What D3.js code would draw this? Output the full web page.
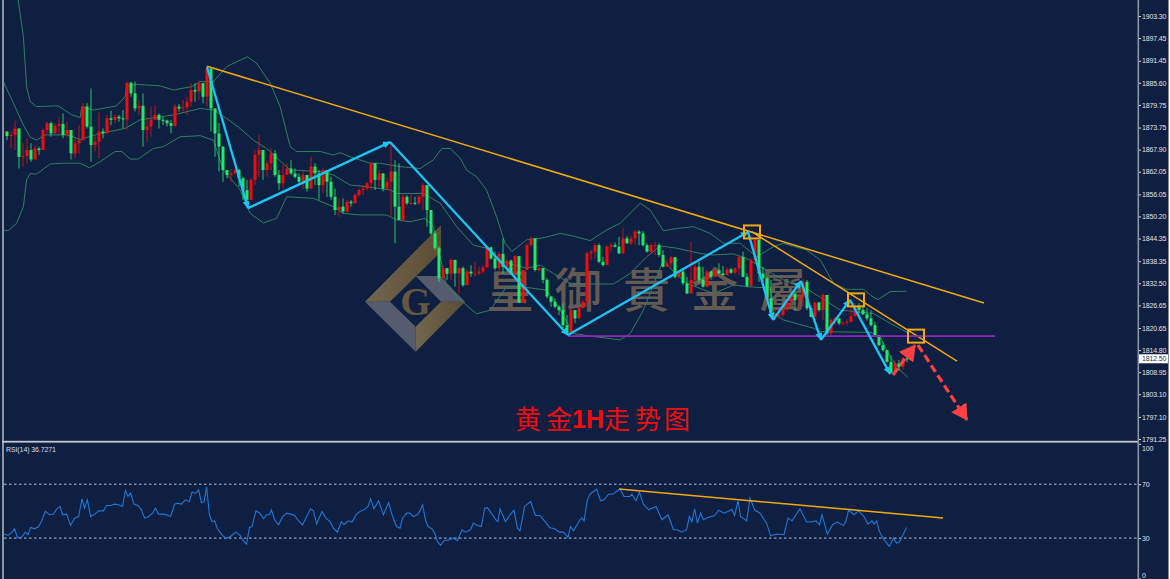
<!DOCTYPE html>
<html><head><meta charset="utf-8">
<script src="https://cdnjs.cloudflare.com/ajax/libs/d3/7.8.5/d3.min.js"></script>
<style>html,body{margin:0;padding:0;background:#fff;overflow:hidden}svg{display:block}</style>
</head><body><svg id="c" width="1170" height="579"></svg>
<script>
const firstOpen = 1872.5;
const closes = [1872.7,1871.5,1871.8,1873.5,1866.0,1866.2,1867.8,1865.3,1868.2,1867.8,1873.1,1874.9,1872.2,1874.2,1874.7,1871.8,1873.1,1866.9,1869.6,1870.4,1879.3,1874.0,1869.1,1870.0,1872.7,1872.2,1876.2,1875.8,1876.6,1876.2,1875.9,1885.6,1882.8,1878.8,1879.5,1873.1,1874.0,1875.8,1877.1,1875.8,1875.6,1874.9,1874.2,1879.3,1878.8,1879.1,1880.6,1883.7,1883.3,1885.5,1881.9,1889.4,1878.8,1872.2,1868.7,1862.5,1861.2,1861.6,1862.5,1860.3,1857.2,1854.6,1859.9,1866.5,1867.8,1862.5,1864.3,1866.9,1861.2,1859.0,1861.2,1862.9,1861.6,1860.7,1859.4,1861.2,1857.6,1863.4,1861.6,1858.5,1862.5,1859.4,1855.4,1851.9,1852.8,1851.5,1854.1,1853.7,1855.9,1857.2,1857.6,1859.0,1864.3,1859.9,1861.6,1857.6,1859.4,1862.1,1852.8,1849.3,
1855.4,1853.7,1853.8,1853.7,1855.4,1858.5,1851.9,1845.7,1841.8,1833.8,1836.5,1835.0,1838.7,1835.1,1836.5,1832.0,1835.6,1835.1,1835.1,1835.6,1836.7,1842.0,1839.1,1836.5,1840.3,1836.9,1838.5,1835.1,1839.7,1827.4,1836.0,1842.6,1844.4,1836.0,1836.5,1833.4,1829.0,1827.6,1826.3,1825.4,1821.4,1819.2,1825.4,1823.2,1825.9,1827.6,1840.4,1840.9,1842.6,1838.2,1837.3,1842.2,1842.6,1842.2,1840.4,1844.4,1843.1,1844.4,1846.2,1845.7,1842.6,1840.9,1842.6,1842.6,1840.0,1836.9,1837.8,1839.4,1834.2,1835.6,1832.5,1829.8,1833.4,1836.9,1833.4,1831.6,1835.6,1834.2,1836.0,1835.1,1834.7,1836.2,1835.3,1836.4,1839.5,1834.2,1831.8,1838.7,1844.0,
1835.1,1833.8,1828.5,1823.6,1824.1,1824.1,1825.9,1827.6,1829.8,1828.1,1828.9,1832.9,1825.9,1823.6,1827.4,1825.4,1829.4,1819.2,1822.8,1823.2,1821.9,1822.1,1822.3,1823.8,1826.3,1825.4,1824.3,1823.2,1821.4,1818.8,1816.1,1814.8,1811.7,1808.8,1811.3,1810.4,1812.6,1812.5];
const highs = [1874.0,1872.7,1872.7,1875.6,1873.5,1869.6,1870.9,1869.6,1869.1,1868.7,1873.5,1875.3,1875.3,1874.9,1876.6,1877.5,1875.3,1871.8,1870.9,1874.4,1880.2,1880.2,1884.1,1871.8,1877.7,1873.5,1877.1,1878.2,1877.3,1877.1,1878.4,1885.9,1885.9,1885.9,1881.0,1882.8,1876.6,1879.3,1879.7,1877.5,1876.6,1875.9,1875.8,1880.0,1880.0,1881.0,1881.9,1885.5,1885.5,1886.3,1885.5,1889.9,1889.4,1878.8,1874.9,1868.7,1862.1,1862.7,1862.9,1862.9,1860.7,1859.9,1860.3,1867.8,1871.8,1865.1,1865.1,1868.2,1867.8,1862.5,1863.8,1864.3,1865.1,1862.9,1861.6,1862.1,1861.2,1866.0,1864.3,1862.5,1862.9,1861.6,1860.7,1857.6,1855.0,1855.0,1854.6,1854.6,1856.3,1857.6,1858.5,1859.2,1864.5,1862.1,1862.5,1859.9,1860.7,1870.0,1865.1,1864.3,
1856.3,1855.9,1855.9,1855.4,1855.9,1859.0,1858.5,1847.9,1846.2,1842.2,1837.3,1835.6,1839.1,1836.9,1836.9,1836.9,1836.2,1837.3,1838.2,1836.9,1837.3,1842.4,1842.2,1840.9,1840.6,1844.4,1838.8,1838.8,1840.0,1839.7,1836.2,1843.1,1844.8,1842.6,1836.9,1836.5,1833.8,1829.0,1828.5,1826.7,1827.2,1824.1,1825.9,1825.4,1826.3,1828.1,1840.9,1841.3,1843.1,1843.1,1839.5,1842.6,1843.1,1843.3,1844.8,1847.0,1845.0,1845.0,1846.6,1846.6,1846.3,1843.1,1843.1,1843.5,1843.1,1841.3,1838.7,1839.7,1838.7,1836.0,1836.0,1834.2,1843.5,1838.2,1838.2,1836.9,1836.0,1835.8,1836.2,1837.8,1837.1,1836.7,1836.5,1836.7,1840.0,1840.9,1835.1,1839.1,1844.4,
1838.7,1836.9,1834.2,1833.4,1826.3,1825.4,1826.3,1828.1,1830.3,1829.8,1829.8,1833.8,1833.4,1826.7,1827.6,1827.6,1829.8,1828.1,1823.2,1823.6,1823.2,1822.3,1822.9,1826.3,1827.2,1827.2,1826.7,1825.9,1825.4,1822.3,1818.8,1817.0,1814.8,1813.5,1812.2,1812.2,1813.0,1813.5];
const lows = [1870.9,1870.4,1868.2,1867.8,1862.9,1863.4,1864.3,1864.7,1866.7,1866.5,1868.2,1872.2,1871.3,1872.7,1871.8,1870.9,1871.3,1865.3,1865.6,1866.9,1870.4,1873.5,1864.7,1867.4,1865.6,1870.9,1872.2,1874.4,1874.9,1875.3,1873.5,1873.1,1881.9,1878.0,1877.1,1868.7,1870.0,1871.3,1875.8,1873.5,1874.4,1874.0,1872.2,1874.0,1878.0,1878.0,1877.1,1879.3,1880.6,1881.0,1880.2,1879.3,1872.7,1866.0,1862.1,1859.4,1860.3,1859.4,1861.6,1858.1,1854.6,1852.8,1854.6,1858.5,1860.7,1859.9,1860.7,1862.5,1860.7,1857.2,1857.6,1861.2,1861.2,1860.3,1858.5,1857.6,1856.8,1860.7,1858.5,1854.6,1856.3,1855.4,1854.6,1850.6,1850.1,1851.0,1851.0,1852.8,1854.1,1855.4,1855.9,1857.2,1857.2,1857.2,1857.6,1856.8,1857.2,1850.1,1843.1,1849.3,
1848.8,1853.2,1853.2,1853.2,1853.2,1851.9,1847.5,1845.3,1841.3,1832.9,1833.8,1833.4,1833.4,1831.6,1829.8,1831.6,1834.2,1834.2,1834.2,1834.7,1835.0,1836.7,1838.7,1836.0,1835.6,1835.1,1836.0,1835.0,1834.2,1827.2,1827.2,1838.2,1842.2,1835.6,1835.6,1832.5,1828.5,1826.3,1825.9,1824.1,1820.6,1818.8,1821.0,1821.9,1824.5,1825.9,1826.3,1838.7,1839.1,1837.8,1836.9,1838.2,1840.9,1842.0,1840.3,1840.9,1842.9,1842.6,1842.6,1842.6,1842.2,1840.6,1840.3,1840.0,1839.5,1836.7,1837.3,1836.7,1833.8,1833.8,1832.0,1829.7,1832.9,1832.9,1832.5,1831.4,1831.4,1833.5,1834.1,1835.0,1834.5,1834.6,1835.0,1835.0,1834.7,1834.1,1831.4,1833.4,1838.2,
1832.9,1832.9,1828.1,1823.2,1823.2,1823.2,1823.6,1825.0,1826.3,1825.4,1825.4,1826.3,1825.4,1823.5,1824.5,1825.0,1822.8,1818.8,1818.8,1821.4,1821.4,1821.4,1821.3,1823.5,1824.1,1824.5,1824.0,1822.6,1821.0,1818.5,1815.9,1814.4,1811.5,1808.5,1809.1,1809.3,1809.7,1811.6];

const upperBars = [3.8,5.1,5.9,6.8,8.4,13.8,17.2,19.3,19.7,22.6,28.4,30.5,30.9,33.4,39.3,42.6,47.2,49.3,52.6,55.9,59.3,61.1,63.4,66.8,69.3,71.8,73.4,79.3,82.6,84.3,86.8,91.8,94.3,99.3,104.3,107.6,109.7,111.8,114.3,115.9,118.4,120.9,123.4,125.5,127.2,130.9,134.3,136.8,139.3,142.6,146.8,150.9,154.3,159.3,161.8,165.1,168.4,172.6,176.8,180.1,184.3,188.4,192.6,195.1,200.9,204.3,207.6,210.9,215.1,217.2,218.8,221.8,225.9];
const upperVals = [1907.5,1897.8,1884.6,1880.6,1879.3,1879.5,1877.1,1876.4,1879.3,1878.4,1879.5,1881.9,1884.6,1885.2,1884.8,1883.7,1884.6,1885.9,1885.9,1889.9,1891.6,1892.5,1890.8,1885.5,1879.3,1868.7,1867.4,1867.4,1866.5,1867.1,1866.0,1864.3,1864.3,1863.4,1862.9,1865.2,1868.2,1868.2,1865.6,1862.5,1860.7,1857.2,1850.1,1843.1,1840.9,1844.0,1844.4,1845.0,1845.7,1845.0,1843.8,1846.6,1848.4,1853.7,1851.9,1846.4,1847.0,1847.5,1845.7,1843.1,1843.1,1839.5,1842.2,1843.1,1841.3,1838.7,1832.5,1830.9,1830.9,1829.1,1828.2,1830.3,1830.4];
const midBars = [0.1,2.6,5.1,6.8,8.4,10.5,15.9,19.3,24.3,30.5,34.3,42.6,49.3,52.6,55.9,59.3,62.6,65.9,71.8,79.3,82.6,86.8,90.9,96.8,98.4,105.1,109.3,113.4,117.6,120.9,125.1,130.9,134.3,137.6,141.8,148.4,152.6,156.8,160.9,164.3,168.4,174.3,177.6,182.6,185.9,189.3,195.1,200.1,204.3,209.3,217.6,221.8,226.2];
const midVals = [1885.9,1880.2,1874.4,1871.2,1870.4,1871.8,1871.8,1870.6,1872.2,1873.5,1875.8,1877.1,1878.8,1878.4,1876.2,1873.5,1870.4,1868.2,1862.5,1862.1,1861.2,1858.5,1858.1,1857.2,1856.3,1856.3,1853.7,1847.5,1842.6,1841.8,1838.2,1836.5,1837.3,1835.1,1832.5,1832.3,1832.3,1835.1,1839.5,1842.4,1841.8,1840.4,1840.0,1840.3,1839.1,1836.9,1833.4,1831.6,1828.8,1825.4,1824.5,1821.9,1819.4];
const lowerBars = [0.1,1.3,3.4,5.1,5.9,6.8,8.4,11.8,15.1,19.3,21.6,24.3,28,29.7,31.8,33.8,37.6,40.1,44.3,49.3,52.6,55.1,59.3,61.8,65.1,68.4,70.9,77.6,82.6,85.1,89.3,95.9,98.4,101.8,105.5,107.6,110.9,114.3,118.4,121.8,125.9,129.3,135.9,139.3,142.6,148.4,154.3,156.8,160.1,163.4,165.1,167.6,170.9,177.6,182.6,188.4,191.8,192.6,195.1,202.6,204.3,216.8,219.3,221.8,224.3,226.2];
const lowerVals = [1846.6,1846.4,1848.4,1852.8,1859.9,1861.6,1861.4,1864.1,1864.3,1864.3,1863.1,1864.7,1867.4,1867.4,1865.4,1865.4,1868.2,1868.7,1871.3,1871.6,1870.4,1862.5,1857.2,1851.0,1848.5,1849.7,1855.4,1855.0,1852.8,1851.0,1850.6,1850.6,1849.3,1848.8,1849.7,1847.5,1831.6,1828.1,1824.4,1825.4,1831.6,1831.6,1830.7,1825.4,1819.2,1818.3,1817.5,1819.2,1825.4,1834.2,1838.7,1835.6,1832.5,1829.8,1832.0,1831.4,1831.4,1824.5,1822.8,1820.6,1819.7,1819.5,1818.3,1813.0,1809.5,1807.6];

const rsiBars = [0.25,1.25,2.25,2.9,3.6,4.6,5.6,6.25,6.9,7.9,8.9,9.6,10.6,11.6,12.6,13.25,14.25,14.9,15.9,16.9,17.9,18.9,19.75,20.4,21.1,21.9,22.9,23.9,25.1,25.9,26.9,27.9,28.9,29.9,30.6,31.25,31.9,32.75,33.75,34.6,35.4,36.4,37.4,38.1,38.9,39.9,40.9,41.9,42.9,43.6,44.6,45.6,46.6,47.25,48.25,48.9,49.6,50.25,50.9,51.6,52.25,52.9,53.6,54.6,55.6,56.6,57.6,58.25,59.25,60.1,60.9,61.6,62.25,63.25,64.25,65.1,65.9,66.6,67.1,67.9,68.9,69.9,70.9,71.9,72.9,73.9,74.9,75.9,76.9,77.6,78.4,79.75,80.75,81.75,82.6,83.6,84.6,85.25,86.25,87.25,88.25,89.25,90.25,91.25,91.9,92.75,93.9,95.1,96.4,97.4,98.4,
99.25,99.9,100.9,101.75,102.6,103.6,104.25,104.9,105.6,106.25,107.25,107.9,108.6,109.4,110.25,111.75,112.6,113.6,114.75,115.6,116.9,117.6,118.6,119.6,120.4,121.1,122.25,123.4,123.75,124.25,125.6,126.75,127.75,128.6,129.25,130.4,131.9,133.1,134.25,135.6,136.6,137.9,139.1,140.1,141.25,141.9,142.6,144.25,144.75,145.25,146.1,146.75,148.4,149.4,150.25,151.4,152.6,153.6,154.25,155.25,156.75,157.25,158.25,159.1,160.1,161.4,163.25,164.75,166.25,167.6,168.6,169.6,170.9,171.6,172.25,172.9,173.6,174.4,175.1,176.25,177.9,178.9,180.25,182.25,182.9,183.75,184.4,185.9,186.75,187.9,189.25,190.9,191.9,193.4,195.25,
196.25,197.25,198.25,199.25,200.9,201.9,203.25,204.1,204.75,206.1,207.4,208.6,210.1,210.75,211.4,212.75,213.9,215.25,216.25,217.25,217.75,218.4,219.1,220.25,221.6,222.6,223.4,224.1,225.9];
const rsiVals = [33,32,34.4,36.9,30.5,30.5,34.4,32.5,37.9,36.9,38.6,42.3,49.8,47.3,47.8,51,53.5,47.3,47.8,39.4,44.8,46,59.1,52.2,58.4,46,47.8,50.2,50.2,54.2,54.2,55.2,54.7,53.5,65.3,60.9,63.3,55.2,54.2,51,44.8,46,48.5,52.2,47.8,47.8,47.3,46,55.2,55.9,55.2,58.4,57.2,64.1,63.3,65.8,56.4,56.7,67.8,47.3,42.3,42.8,36.9,33,30,30.5,33,34.4,32,28,25.6,37.9,38.6,50.2,48.5,44.3,47.3,47.3,51,43.6,39.9,46,48.5,47.8,46.8,42.8,39.9,46,51.7,50.2,40.4,49.8,44.8,42.3,37.4,34.4,42.3,39.9,42.8,41.9,47.3,49.8,51,53.5,59.1,51.7,57.7,47.3,56.4,46,38.6,
37.4,44.8,48.5,48.5,46,47.3,50.2,54.7,43.6,38.6,36.9,33.7,27.5,24.6,28,28.8,30,28,36.2,34.4,36.2,41.1,39.4,38.6,52.2,52.7,47.8,42.8,42.3,51.7,42.3,47.3,50.7,37.4,35.4,53.5,57.2,46.8,46.8,41.9,37.9,36.9,34.4,34.4,30.5,38.6,35.4,43.6,44.8,42.8,58.4,62.6,66.3,57.7,58.4,62.6,62.8,65.1,66.5,60.9,60.9,62.6,57.7,64.1,55.2,51,53.5,43.6,47.3,36.2,36.2,34.4,36.2,46,42.3,51.7,41.1,48.5,43.6,45.3,46.8,50.7,48.5,51.2,46.8,57.7,46,42.8,59.6,51,48.5,41.1,31.7,33,32.5,
44.8,42.8,47.3,51.7,41.9,41.9,42.8,39.9,47.3,33,39.9,41.9,39.4,42.8,50.7,47.3,50.2,46,40.4,42.8,40.4,42.8,34.9,28.8,23.8,30,26.3,27,37.9];

const priceTicks = [1903.30,1897.45,1891.45,1885.60,1879.75,1873.75,1867.90,1862.05,1856.05,1850.20,1844.35,1838.35,1832.50,1826.65,1820.65,1814.80,1808.95,1803.10,1797.10,1791.25];
const rsiTicks = [100,70,30,0];
const rsiLevels = [70,30];
const lastPrice = 1812.50;
const rsiTitle = "RSI(14) 36.7271";

const zigzagBars = [51,61.25,96.75,141.25,186.25,192.5,199.5,204.5,211.75,221.75];
const zigzagPrices = [1889.8,1852.4,1869.9,1818.8,1846.1,1822.8,1833.1,1817.5,1828.1,1808.5];
const trendBars = [[51,245.25],[187.25,238.5]];
const trendPrices = [[1890.0,1827.3],[1846.1,1811.9]];
const supportBars = [141.25,248];
const supportPrice = 1818.5;
const boxBars = [187.25,213.25,228.25];
const boxPrices = [1846.1,1828.1,1818.5];
const arrowBars = [[222.5,228],[228.75,241]];
const arrowPrices = [[1808.2,1816.1],[1816.1,1796.3]];
const rsiTrendBars = [154,235];
const rsiTrendVals = [66.5,45];
const watermarkChars = ["皇","御","貴","金","屬"];

const BG="#0f1f42", RED="#f50a0a", GREEN="#1bee62", BAND="#2f7f60", BLUE="#1cc4f2", ORANGE="#f2a90d";
const AXF="Liberation Sans";
const svg=d3.select("#c");
svg.append("rect").attr("width",1170).attr("height",579).attr("fill","#ffffff");
svg.append("rect").attr("width",1168.5).attr("height",579).attr("fill",BG);

const x=d3.scaleLinear().domain([0,226]).range([3,907]);
const y=d3.scaleLinear().domain([1903.30,1791.25]).range([16,439]);
const yR=d3.scaleLinear().domain([100,0]).range([443.8,578.5]);

const defs=svg.append("defs");
defs.append("clipPath").attr("id","cp").append("rect").attr("x",4).attr("y",0).attr("width",1134).attr("height",440);
const grad=defs.append("linearGradient").attr("id","gold").attr("x1","0").attr("x2","1").attr("y1","0.3").attr("y2","0.3");
grad.append("stop").attr("offset","0").attr("stop-color","#706650");
grad.append("stop").attr("offset","1").attr("stop-color","#5c4d33");
function marker(id,color,w,h){
  defs.append("marker").attr("id",id).attr("markerUnits","userSpaceOnUse").attr("markerWidth",w).attr("markerHeight",h)
    .attr("viewBox",`0 0 ${w} ${h}`).attr("refX",w-1).attr("refY",h/2).attr("orient","auto")
    .append("path").attr("d",`M0,0L${w},${h/2}L0,${h}Z`).attr("fill",color);
}
marker("blueHead",BLUE,8,7);
marker("redHead",'#ff4044',16,18);

// watermark logo (decoration)
const logo=svg.append("g").attr("transform","translate(355,220) scale(0.3333)");
[["#6e6350","30,245 258,15 258,95 105,245","url(#gold)"],["","30,245 105,245 182,320 182,395","#565c6e"],["","182,395 182,320 258,245 330,245","url(#gold)"],["","182,168 255,168 330,245 258,245","#565c6e"]]
 .forEach(d=>logo.append("polygon").attr("points",d[1]).attr("fill",d[2]));
logo.append("text").attr("x",182).attr("y",284).attr("text-anchor","middle").attr("font-family","Liberation Serif").attr("font-weight","bold").attr("font-size",118).attr("fill","#64583f").text("G");
svg.append("g").selectAll("text").data(watermarkChars).join("text")
  .attr("x",(d,i)=>510+i*68.2).attr("y",307).attr("text-anchor","middle")
  .attr("font-family","Noto Sans CJK TC").attr("font-size",47).attr("font-weight",500).attr("fill","#635a53").text(d=>d);

const main=svg.append("g").attr("clip-path","url(#cp)");
const lineG=d3.line().x(d=>x(d[0])).y(d=>y(d[1])).curve(d3.curveLinear);
[[upperBars,upperVals],[midBars,midVals],[lowerBars,lowerVals]].forEach(([b,v])=>{
  main.append("path").attr("d",lineG(d3.zip(b,v))).attr("fill","none").attr("stroke",BAND).attr("stroke-width",1);
});
const bars=closes.map((c,i)=>({i,o:i?closes[i-1]:firstOpen,c,h:highs[i],l:lows[i]}));
const colorOf=d=>d.c>=d.o?RED:GREEN;
main.append("g").selectAll("line").data(bars).join("line")
  .attr("x1",d=>x(d.i)).attr("x2",d=>x(d.i))
  .attr("y1",d=>y(Math.max(d.h,d.o,d.c))).attr("y2",d=>y(Math.min(d.l,d.o,d.c)))
  .attr("stroke",colorOf).attr("stroke-width",1).attr("stroke-opacity",.85);
main.append("g").selectAll("rect").data(bars).join("rect")
  .attr("x",d=>x(d.i)-1.5).attr("width",3)
  .attr("y",d=>y(Math.max(d.o,d.c))).attr("height",d=>Math.max(1,Math.abs(y(d.o)-y(d.c))))
  .attr("fill",colorOf);

// trend lines
trendBars.forEach((b,k)=>main.append("line").attr("x1",x(b[0])).attr("x2",x(b[1])).attr("y1",y(trendPrices[k][0])).attr("y2",y(trendPrices[k][1])).attr("stroke",ORANGE).attr("stroke-width",1.5));
main.append("line").attr("x1",x(supportBars[0])).attr("x2",x(supportBars[1])).attr("y1",y(supportPrice)).attr("y2",y(supportPrice)).attr("stroke","#8a2bb8").attr("stroke-width",1.6);
// zigzag
zigzagBars.slice(1).forEach((b,k)=>{
  main.append("line").attr("x1",x(zigzagBars[k])).attr("y1",y(zigzagPrices[k])).attr("x2",x(b)).attr("y2",y(zigzagPrices[k+1]))
   .attr("stroke",BLUE).attr("stroke-width",2.3).attr("marker-end","url(#blueHead)");
});
// boxes
main.append("g").selectAll("rect").data(boxBars).join("rect")
  .attr("x",b=>x(b)-8).attr("width",16).attr("y",(b,i)=>y(boxPrices[i])-6.5).attr("height",13)
  .attr("fill","none").attr("stroke",ORANGE).attr("stroke-width",2);
// red arrows
arrowBars.forEach((b,k)=>main.append("line").attr("x1",x(b[0])).attr("x2",x(b[1])).attr("y1",y(arrowPrices[k][0])).attr("y2",y(arrowPrices[k][1]))
  .attr("stroke","#ff4044").attr("stroke-width",3.2).attr("stroke-dasharray","8 4").attr("marker-end","url(#redHead)"));

// title
const title=svg.append("g").attr("fill","#f20d0d");
const titleParts=[["黄",528],["金",559],["走",617],["势",648],["图",677]];
title.selectAll("text").data(titleParts).join("text").attr("x",d=>d[1]).attr("y",429).attr("text-anchor","middle")
  .attr("font-family","Noto Sans CJK SC").attr("font-size",26).attr("font-weight",400).text(d=>d[0]);
title.append("text").attr("x",588).attr("y",428).attr("text-anchor","middle").attr("font-family","Liberation Sans").attr("font-weight","bold").attr("font-size",25).text("1H");

// RSI pane
svg.append("g").selectAll("line").data(rsiLevels).join("line").attr("x1",4).attr("x2",1138).attr("y1",d=>yR(d)).attr("y2",d=>yR(d))
  .attr("stroke","#b9c0d0").attr("stroke-width",1).attr("stroke-dasharray","2.5 2.5");
svg.append("path").attr("d",d3.line().x(d=>x(d[0])).y(d=>yR(d[1]))(d3.zip(rsiBars,rsiVals))).attr("fill","none").attr("stroke","#1f78d6").attr("stroke-width",1.1);
svg.append("line").attr("x1",x(rsiTrendBars[0])).attr("x2",x(rsiTrendBars[1])).attr("y1",yR(rsiTrendVals[0])).attr("y2",yR(rsiTrendVals[1])).attr("stroke",ORANGE).attr("stroke-width",1.5);
svg.append("text").attr("x",6).attr("y",451.5).attr("font-family",AXF).attr("font-size",7).attr("letter-spacing",-0.1).attr("fill","#d9dee8").text(rsiTitle);

// frames
svg.append("rect").attr("x",2).attr("y",0).attr("width",2).attr("height",579).attr("fill","#8e93a0");
svg.append("rect").attr("x",2).attr("y",440.8).attr("width",1136).attr("height",1.8).attr("fill","#c3c8d2");
svg.append("rect").attr("x",1137.5).attr("y",0).attr("width",1.6).attr("height",579).attr("fill","#8e93a0");

// axes
const axP=svg.append("g").attr("transform","translate(1139,0)").call(d3.axisRight(y).tickValues(priceTicks).tickFormat(d3.format(".2f")).tickSize(2).tickPadding(1));
const axR=svg.append("g").attr("transform","translate(1139,0)").call(d3.axisRight(yR).tickValues(rsiTicks).tickFormat(d=>d).tickSize(2).tickPadding(1));
[axP,axR].forEach(a=>{a.select(".domain").remove();a.selectAll("line").attr("stroke","#d9dee8");a.selectAll("text").attr("font-family",AXF).attr("font-size",7).attr("letter-spacing",-0.15).attr("fill","#dfe3ea");});
axR.selectAll("text").attr("dy",d=>d===100?"0.95em":d===0?"-0.1em":"0.32em");
// last price tag
svg.append("rect").attr("x",1139).attr("y",y(lastPrice)-4.5).attr("width",29).attr("height",9).attr("fill","#fff");
svg.append("text").attr("x",1142).attr("y",y(lastPrice)+2.6).attr("font-family",AXF).attr("font-size",7).attr("letter-spacing",-0.15).attr("fill","#333").text(d3.format(".2f")(lastPrice));
</script></body></html>
